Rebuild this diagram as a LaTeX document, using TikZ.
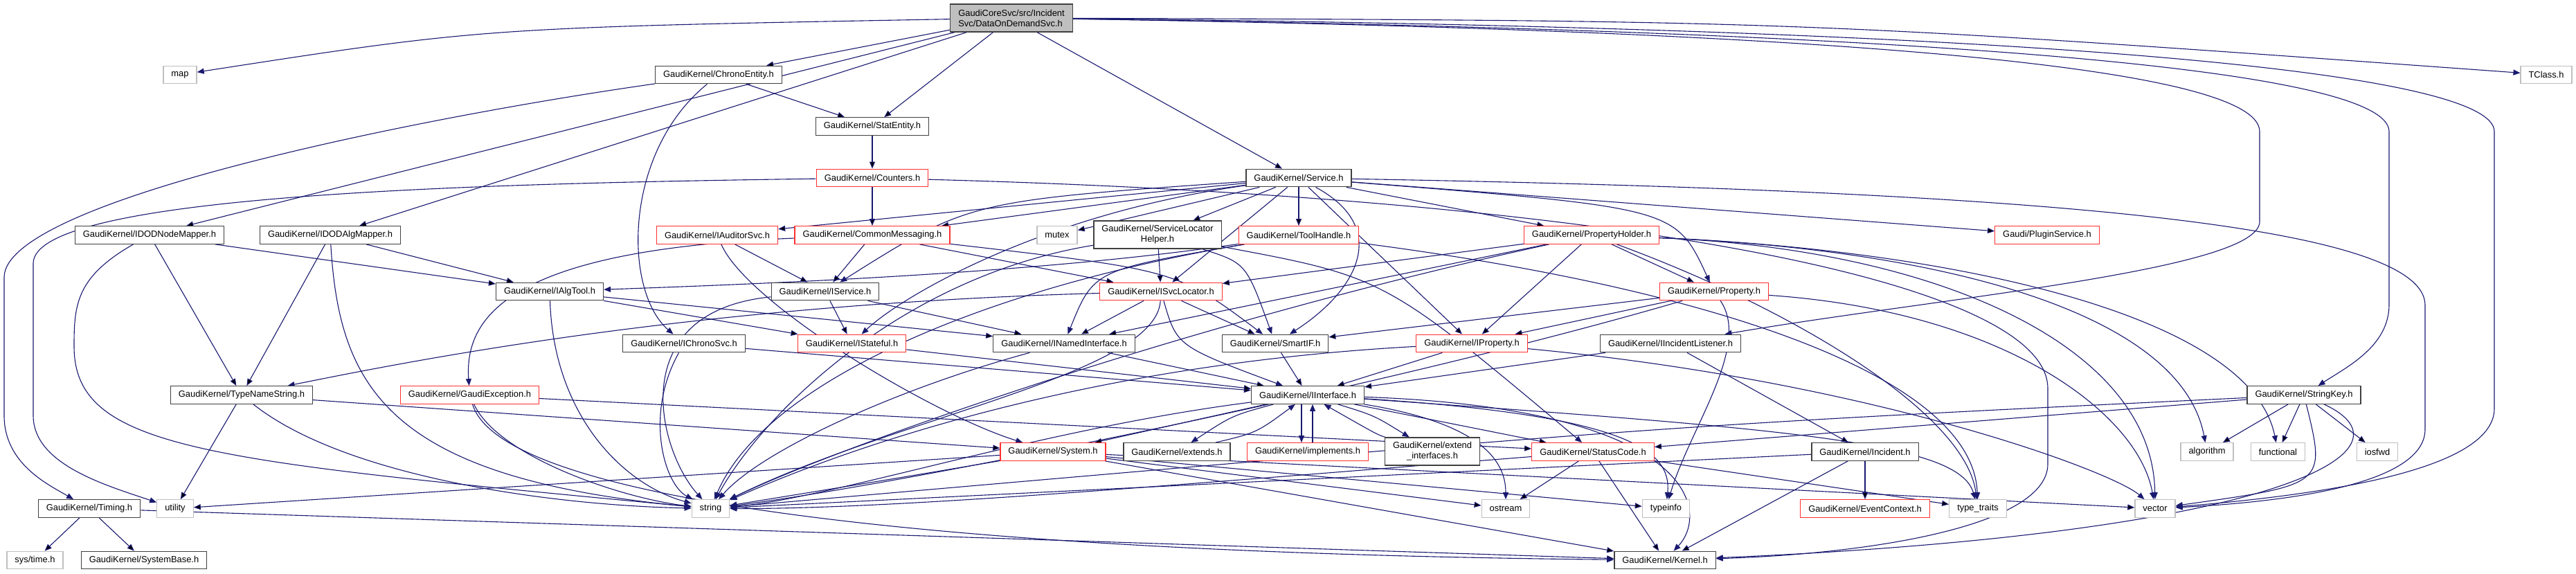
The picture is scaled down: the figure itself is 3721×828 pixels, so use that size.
\documentclass[tikz,border=0pt]{standalone}
\usepackage{fontspec}
\setmainfont{Liberation Sans}
\usetikzlibrary{positioning, arrows.meta, backgrounds}

\definecolor{edgeblue}{RGB}{25,25,112}
\definecolor{boxline}{RGB}{64,64,64}
\definecolor{sysline}{RGB}{191,191,191}
\definecolor{truncline}{RGB}{255,48,48}

\begin{document}
\begin{tikzpicture}[x=1pt, y=-1pt, font=\fontsize{12.9}{15}\selectfont,
	hdr/.style={rectangle, draw=boxline, fill=white, line width=1.3pt, inner xsep=11.5pt, inner ysep=2pt, minimum height=25.5pt},
	sys/.style={hdr, draw=sysline},
	trunc/.style={hdr, draw=truncline},
	twoline/.style={hdr, align=center, minimum height=40pt},
	mainf/.style={hdr, fill=sysline, align=left, minimum height=40pt},
	dep/.style={draw=edgeblue, line width=1.1pt, -{Triangle[length=10pt, width=8pt]}}]
	\useasboundingbox (0,0) rectangle (3721,828);
	% headers
	\node[mainf] (root) at (1461,26) {GaudiCoreSvc/src/Incident\\Svc/DataOnDemandSvc.h};
	\node[sys] (map) at (260,108) {map};
	\node[hdr] (chrono) at (1038,108) {GaudiKernel/ChronoEntity.h};
	\node[sys] (tclass) at (3678,108) {TClass.h};
	\node[hdr] (statent) at (1260,182.5) {GaudiKernel/StatEntity.h};
	\node[trunc] (counters) at (1260,257) {GaudiKernel/Counters.h};
	\node[hdr] (service) at (1876,257) {GaudiKernel/Service.h};
	\node[hdr] (idodnode) at (216,339.5) {GaudiKernel/IDODNodeMapper.h};
	\node[hdr] (idodalg) at (477,339.5) {GaudiKernel/IDODAlgMapper.h};
	\node[trunc] (iauditor) at (1036,339.5) {GaudiKernel/IAuditorSvc.h};
	\node[trunc] (cmsg) at (1260,339.5) {GaudiKernel/CommonMessaging.h};
	\node[sys] (mutex) at (1527,339.5) {mutex};
	\node[twoline] (slhelper) at (1672,339) {GaudiKernel/ServiceLocator\\Helper.h};
	\node[trunc] (toolh) at (1876,339.5) {GaudiKernel/ToolHandle.h};
	\node[trunc] (propholder) at (2299,339.5) {GaudiKernel/PropertyHolder.h};
	\node[trunc] (plugin) at (2957,339.5) {Gaudi/PluginService.h};
	\node[hdr] (ialgtool) at (794,421) {GaudiKernel/IAlgTool.h};
	\node[hdr] (iservice) at (1192,421) {GaudiKernel/IService.h};
	\node[trunc] (isvcloc) at (1677,421) {GaudiKernel/ISvcLocator.h};
	\node[trunc] (prop) at (2476,421) {GaudiKernel/Property.h};
	\node[hdr] (ichrono) at (988,496) {GaudiKernel/IChronoSvc.h};
	\node[trunc] (istateful) at (1230.5,496) {GaudiKernel/IStateful.h};
	\node[hdr] (inamed) at (1537,496) {GaudiKernel/INamedInterface.h};
	\node[hdr] (smartif) at (1842,496) {GaudiKernel/SmartIF.h};
	\node[trunc] (iprop) at (2126,496) {GaudiKernel/IProperty.h};
	\node[hdr] (iincl) at (2413,496) {GaudiKernel/IIncidentListener.h};
	\node[hdr] (typename) at (349,570.5) {GaudiKernel/TypeNameString.h};
	\node[trunc] (gexc) at (678.5,570.5) {GaudiKernel/GaudiException.h};
	\node[hdr] (iiface) at (1889,570.5) {GaudiKernel/IInterface.h};
	\node[hdr] (strkey) at (3328,570.5) {GaudiKernel/StringKey.h};
	\node[trunc] (system) at (1521,652.5) {GaudiKernel/System.h};
	\node[hdr] (extends) at (1700,652.5) {GaudiKernel/extends.h};
	\node[trunc] (implements) at (1889,652.5) {GaudiKernel/implements.h};
	\node[twoline] (extif) at (2069,652) {GaudiKernel/extend\\\_interfaces.h};
	\node[trunc] (statcode) at (2301,652.5) {GaudiKernel/StatusCode.h};
	\node[hdr] (incident) at (2694,652.5) {GaudiKernel/Incident.h};
	\node[sys] (algorithm) at (3188,652.5) {algorithm};
	\node[sys] (functional) [right=24pt of algorithm] {functional};
	\node[sys] (iosfwd) at (3434,652.5) {iosfwd};
	\node[hdr] (timing) at (129,734.5) {GaudiKernel/Timing.h};
	\node[sys] (utility) at (253,734.5) {utility};
	\node[sys] (string) at (1026.5,734.5) {string};
	\node[sys] (ostream) at (2175,734.5) {ostream};
	\node[sys] (typeinfo) at (2406.5,734.5) {typeinfo};
	\node[trunc] (evctx) at (2694,734.5) {GaudiKernel/EventContext.h};
	\node[sys] (ttraits) at (2857,734.5) {type\_traits};
	\node[sys] (vector) at (3113,734.5) {vector};
	\node[sys] (systime) at (50.5,809) {sys/time.h};
	\node[hdr] (sysbase) at (208,809) {GaudiKernel/SystemBase.h};
	\node[hdr] (kernel) at (2405,809) {GaudiKernel/Kernel.h};

	\begin{scope}[on background layer]
	% includes of the main file
	\path[dep] (root) edge (chrono) edge (idodnode) edge (idodalg) edge (statent) edge (service);
	\draw[dep] (root) .. controls (700,40) .. (map);
	\draw[dep] (root) .. controls (2600,30) .. (tclass);
	\draw[dep] (root) .. controls (2700,45) and (3264,100) .. (3264,190) -- (3264,320)
		.. controls (3264,390) and (2800,430) .. (iincl);
	\draw[dep] (root) .. controls (2800,45) and (3451,100) .. (3451,190) -- (3451,440)
		.. controls (3451,500) and (3390,530) .. (strkey);
	\draw[dep] (root) .. controls (2900,40) and (3603,100) .. (3603,190) -- (3603,590)
		.. controls (3603,680) and (3350,715) .. (vector);
	% left part
	\path[dep] (chrono) edge (statent);
	\draw[dep] (chrono) .. controls (900,220) and (900,420) .. (ichrono);
	\draw[dep] (chrono) .. controls (600,170) and (8,290) .. (6,400) -- (6,600)
		.. controls (6,670) and (70,700) .. (timing);
	\path[dep] (statent) edge (counters);
	\path[dep] (counters) edge (cmsg);
	\draw[dep] (counters) .. controls (700,265) and (50,280) .. (48,380) -- (48,600)
		.. controls (48,670) and (150,700) .. (utility);
	\draw[dep] (counters) .. controls (2300,285) and (2955,400) .. (2958,560) -- (2958,670)
		.. controls (2958,760) and (2700,800) .. (kernel);
	\path[dep] (idodnode) edge (typename) edge (ialgtool);
	\draw[dep] (idodnode) .. controls (110,400) and (107,440) .. (107,500)
		.. controls (107,650) and (300,665) .. (string);
	\path[dep] (idodalg) edge (typename) edge (ialgtool);
	\draw[dep] (idodalg) .. controls (490,560) and (560,690) .. (string);
	\path[dep] (typename) edge (utility) edge (system);
	\draw[dep] (typename) .. controls (500,690) and (800,730) .. (string);
	\path[dep] (timing) edge (systime) edge (sysbase) edge (kernel);
	\path[dep] (gexc) edge (statcode);
	\draw[dep] (gexc) .. controls (720,660) and (900,720) .. (string);
	\draw[dep] (gexc) .. controls (730,740) and (1500,800) .. (kernel);
	% Service.h
	\path[dep] (service) edge (iauditor) edge (cmsg) edge (mutex) edge (slhelper) edge (toolh)
		edge (propholder) edge (plugin) edge (iprop) edge (isvcloc);
	\draw[dep] (service) .. controls (1400,290) .. (iservice);
	\draw[dep] (service) .. controls (1500,310) and (1300,430) .. (istateful);
	\draw[dep] (service) .. controls (2010,330) and (1960,420) .. (smartif);
	\draw[dep] (service) .. controls (2420,300) .. (prop);
	\draw[dep] (service) .. controls (2900,275) and (3500,320) .. (3503,440) -- (3503,620)
		.. controls (3503,700) and (3300,725) .. (vector);
	\path[dep] (iauditor) edge (iservice);
	\draw[dep] (iauditor) .. controls (1080,440) and (1350,600) .. (system);
	\path[dep] (cmsg) edge (iservice) edge (isvcloc);
	\draw[dep] (cmsg) .. controls (1700,390) .. (smartif);
	\draw[dep] (cmsg) .. controls (750,360) and (670,450) .. (gexc);
	\path[dep] (slhelper) edge (isvcloc);
	\draw[dep] (slhelper) .. controls (1800,380) .. (smartif);
	\draw[dep] (slhelper) .. controls (1300,400) and (1100,600) .. (string);
	\draw[dep] (slhelper) .. controls (2000,400) .. (statcode);
	\draw[dep] (toolh) .. controls (1500,395) and (1100,410) .. (ialgtool);
	\draw[dep] (toolh) .. controls (1580,390) .. (inamed);
	\draw[dep] (toolh) .. controls (1400,420) and (1100,560) .. (string);
	\draw[dep] (toolh) .. controls (2500,420) and (2850,550) .. (ttraits);
	\path[dep] (propholder) edge (inamed) edge (isvcloc) edge (iprop) edge (prop);
	\draw[dep] (propholder) .. controls (2800,360) and (3150,450) .. (algorithm);
	\draw[dep] (propholder) .. controls (2800,360) and (3250,450) .. (functional);
	\draw[dep] (propholder) .. controls (2800,360) and (3110,500) .. (vector);
	\draw[dep] (propholder) .. controls (2600,450) and (2840,600) .. (ttraits);
	\draw[dep] (propholder) .. controls (1700,470) and (1200,650) .. (string);
	% interfaces
	\path[dep] (ialgtool) edge (inamed) edge (istateful);
	\draw[dep] (ialgtool) .. controls (800,600) and (900,700) .. (string);
	\path[dep] (iservice) edge (inamed) edge (istateful);
	\draw[dep] (iservice) .. controls (900,450) and (950,650) .. (string);
	\path[dep] (isvcloc) edge (inamed) edge (smartif);
	\draw[dep] (isvcloc) .. controls (1700,500) .. (iiface);
	\draw[dep] (isvcloc) .. controls (1670,540) and (1300,600) .. (string);
	\draw[dep] (isvcloc) .. controls (1000,440) and (600,520) .. (typename);
	\path[dep] (prop) edge (iprop) edge (smartif);
	\draw[dep] (prop) .. controls (2530,500) and (2440,620) .. (typeinfo);
	\draw[dep] (prop) .. controls (2900,450) and (3090,600) .. (vector);
	\draw[dep] (prop) .. controls (2000,560) and (1300,700) .. (string);
	\path[dep] (ichrono) edge (iiface);
	\draw[dep] (ichrono) .. controls (930,600) and (960,700) .. (string);
	\path[dep] (istateful) edge (iiface);
	\path[dep] (inamed) edge (iiface);
	\draw[dep] (inamed) .. controls (1300,560) and (1100,650) .. (string);
	\path[dep] (smartif) edge (iiface);
	\path[dep] (iprop) edge (iiface);
	\draw[dep] (iprop) .. controls (1500,530) and (1150,680) .. (string);
	\draw[dep] (iprop) .. controls (2700,550) and (3050,680) .. (vector);
	\path[dep] (iincl) edge (iiface) edge (incident);
	% IInterface.h
	\path[dep] (iiface) edge (system) edge (statcode);
	\draw[dep] ([xshift=-9pt]iiface.south) -- ([xshift=-9pt]implements.north);
	\draw[dep] ([xshift=7pt]implements.north) -- ([xshift=7pt]iiface.south);
	\draw[dep] (iiface) .. controls (1780,600) .. (extends);
	\draw[dep] (extends) .. controls (1815,625) .. (iiface);
	\draw[dep] (iiface) .. controls (1985,600) .. (extif);
	\draw[dep] (extif) .. controls (1990,628) .. (iiface);
	\draw[dep] (iiface) .. controls (2130,610) and (2175,660) .. (ostream);
	\draw[dep] (iiface) .. controls (2350,600) and (2415,650) .. (typeinfo);
	\draw[dep] (iiface) .. controls (2450,590) and (2470,740) .. (kernel);
	\draw[dep] (iiface) .. controls (2600,620) and (2830,640) .. (ttraits);
	\draw[dep] (iiface) .. controls (1500,620) and (1200,720) .. (string);
	% lower rows
	\path[dep] (system) edge (utility) edge (ostream) edge (typeinfo) edge (kernel) edge (vector);
	\draw[dep] (system) .. controls (1300,690) .. (string);
	\path[dep] (statcode) edge (ostream) edge (kernel) edge (ttraits);
	\draw[dep] (statcode) .. controls (1700,700) and (1300,735) .. (string);
	\path[dep] (incident) edge (evctx) edge (kernel) edge (string);
	\path[dep] (strkey) edge (algorithm) edge (functional) edge (iosfwd) edge (statcode);
	\draw[dep] (strkey) .. controls (3360,700) .. (vector);
	\draw[dep] (strkey) .. controls (3500,650) and (3300,770) .. (kernel);
	\draw[dep] (strkey) .. controls (2400,615) .. (string);
	\end{scope}
\end{tikzpicture}
\end{document}
